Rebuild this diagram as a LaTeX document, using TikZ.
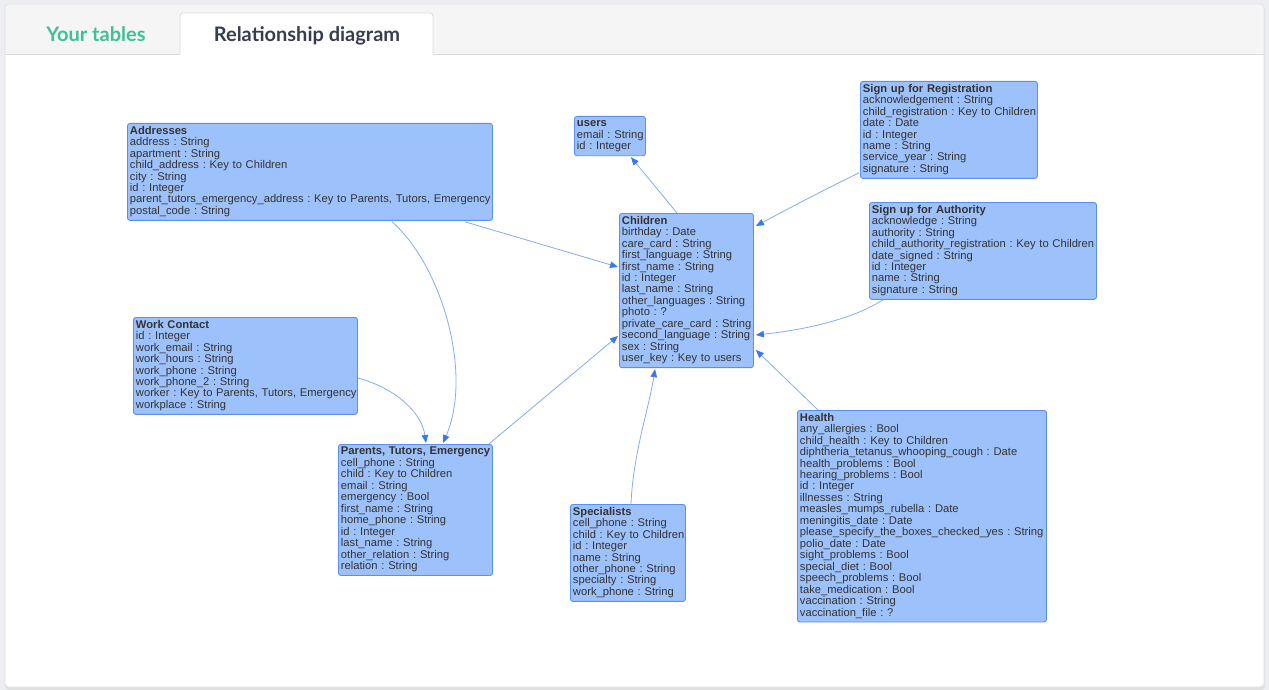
\documentclass[tikz,border=0pt]{standalone}
\usepackage{fontspec}
\setmainfont{Liberation Sans}
\newfontfamily\latofont{Lato}
\usetikzlibrary{arrows.meta,calc}
\definecolor{outerbg}{HTML}{EDEEF1}
\definecolor{tabbg}{HTML}{F5F5F5}
\definecolor{tabline}{HTML}{DBDBDB}
\definecolor{tabgreen}{HTML}{3EC194}
\definecolor{tabdark}{HTML}{363D4F}
\definecolor{boxfill}{HTML}{9DC1FB}
\definecolor{boxdraw}{HTML}{5B8FEE}
\definecolor{boxtext}{HTML}{333333}
\definecolor{linkc}{HTML}{86AAF3}
\definecolor{tipc}{HTML}{3B7AE6}
\newcommand\tbrows[1]{\noindent\def\arraystretch{0.985}\begin{tabular}{@{}l@{}}#1\end{tabular}}
\frenchspacing
\tikzset{
 tbl/.style={draw=boxdraw, fill=boxfill, line width=0.9pt, rounded corners=2.5pt,
   anchor=north west, inner xsep=2.5pt, inner ysep=2.6pt, align=left, text=boxtext,
   font=\fontsize{11.2}{11.33}\selectfont},
 link/.style={draw=linkc, line width=0.8pt, -{Triangle[length=8pt,width=6.5pt,color=tipc]}},
 tabtext/.style={anchor=base, font=\latofont\bfseries\fontsize{20}{24}\selectfont, inner sep=0pt},
}
\begin{document}
\begin{tikzpicture}[x=1pt,y=-1pt]
\useasboundingbox (0,0) rectangle (1269,690);
% page background and panel
\fill[outerbg] (0,0) rectangle (1269,690);
\fill[black!12, rounded corners=4pt] (5,6) rectangle (1265,690);
\fill[white, rounded corners=4pt] (5,4) rectangle (1264,687);
\begin{scope}
\clip[rounded corners=4pt] (5,4) rectangle (1264,687);
\fill[tabbg] (5,4) rectangle (1264,54);
\end{scope}
\draw[tabline, line width=0.8pt] (5,54) -- (180,54);
\draw[tabline, line width=0.8pt] (433,54) -- (1264,54);
\filldraw[fill=white, draw=tabline, line width=0.8pt, rounded corners=3pt] (180,54.5) -- (180,13) -- (433,13) -- (433,54.5);
\draw[tabline!80, line width=0.6pt, rounded corners=4pt] (5,4) rectangle (1264,687);
\node[tabtext, text=tabgreen] (tab1) at (96,41.7) {Your tables};
\node[tabtext, text=tabdark] (tab2) at (307,41.7) {Relationship diagram};

% tables
\node[tbl, text width=360pt] (addr) at (127,123) {\tbrows{\textbf{Addresses}\\address : String\\apartment : String\\child\_address : Key to Children\\city : String\\id : Integer\\parent\_tutors\_emergency\_address : Key to Parents, Tutors, Emergency\\postal\_code : String}};
\node[tbl, text width=66pt] (users) at (574,116) {\tbrows{\textbf{users}\\email : String\\id : Integer}};
\node[tbl, text width=172pt] (reg) at (860,81) {\tbrows{\textbf{Sign up for Registration}\\acknowledgement : String\\child\_registration : Key to Children\\date : Date\\id : Integer\\name : String\\service\_year : String\\signature : String}};
\node[tbl, text width=222pt] (auth) at (869,202) {\tbrows{\textbf{Sign up for Authority}\\acknowledge : String\\authority : String\\child\_authority\_registration : Key to Children\\date\_signed : String\\id : Integer\\name : String\\signature : String}};
\node[tbl, text width=129pt] (ch) at (619,213) {\tbrows{\textbf{Children}\\birthday : Date\\care\_card : String\\first\_language : String\\first\_name : String\\id : Integer\\last\_name : String\\other\_languages : String\\photo : ?\\private\_care\_card : String\\second\_language : String\\sex : String\\user\_key : Key to users}};
\node[tbl, text width=219pt] (work) at (133,317) {\tbrows{\textbf{Work Contact}\\id : Integer\\work\_email : String\\work\_hours : String\\work\_phone : String\\work\_phone\_2 : String\\worker : Key to Parents, Tutors, Emergency\\workplace : String}};
\node[tbl, text width=149pt] (par) at (338,444) {\tbrows{\textbf{Parents, Tutors, Emergency}\\cell\_phone : String\\child : Key to Children\\email : String\\emergency : Bool\\first\_name : String\\home\_phone : String\\id : Integer\\last\_name : String\\other\_relation : String\\relation : String}};
\node[tbl, text width=110pt] (spec) at (570,504) {\tbrows{\textbf{Specialists}\\cell\_phone : String\\child : Key to Children\\id : Integer\\name : String\\other\_phone : String\\specialty : String\\work\_phone : String}};
\node[tbl, text width=244pt] (health) at (797,410) {\tbrows{\textbf{Health}\\any\_allergies : Bool\\child\_health : Key to Children\\diphtheria\_tetanus\_whooping\_cough : Date\\health\_problems : Bool\\hearing\_problems : Bool\\id : Integer\\illnesses : String\\measles\_mumps\_rubella : Date\\meningitis\_date : Date\\please\_specify\_the\_boxes\_checked\_yes : String\\polio\_date : Date\\sight\_problems : Bool\\special\_diet : Bool\\speech\_problems : Bool\\take\_medication : Bool\\vaccination : String\\vaccination\_file : ?}};

% connectors
\draw[link] ($(ch.north west)+(58,0)$) -- ($(users.south west)+(57,1)$);
\draw[link] ($(reg.south west)+(-1,-6)$) .. controls ($(reg.south west)+(-40,13)$) and ($(ch.north east)+(30,-2)$) .. ($(ch.north east)+(2,13)$);
\draw[link] ($(auth.south west)+(14,0)$) .. controls ($(auth.south west)+(-20,22)$) and ($(ch.north east)+(40,118)$) .. ($(ch.north east)+(2,122)$);
\draw[link] ($(addr.south west)+(338,1)$) -- ($(ch.north west)+(-1,54)$);
\draw[link] ($(addr.south west)+(265,1)$) .. controls ($(addr.south west)+(315,45)$) and ($(par.north west)+(135,-70)$) .. ($(par.north west)+(105,-1)$);
\draw[link] ($(work.north east)+(0,61)$) .. controls ($(work.north east)+(40,72)$) and ($(par.north west)+(84,-30)$) .. ($(par.north west)+(88,-1)$);
\draw[link] ($(par.north east)+(-4,0)$) -- ($(ch.north west)+(-1,123)$);
\draw[link] ($(spec.north west)+(61,0)$) .. controls ($(spec.north west)+(63,-50)$) and ($(ch.south west)+(30,40)$) .. ($(ch.south west)+(36,1)$);
\draw[link] ($(health.north west)+(21,0)$) -- ($(ch.north east)+(2,137)$);
\end{tikzpicture}
\end{document}
